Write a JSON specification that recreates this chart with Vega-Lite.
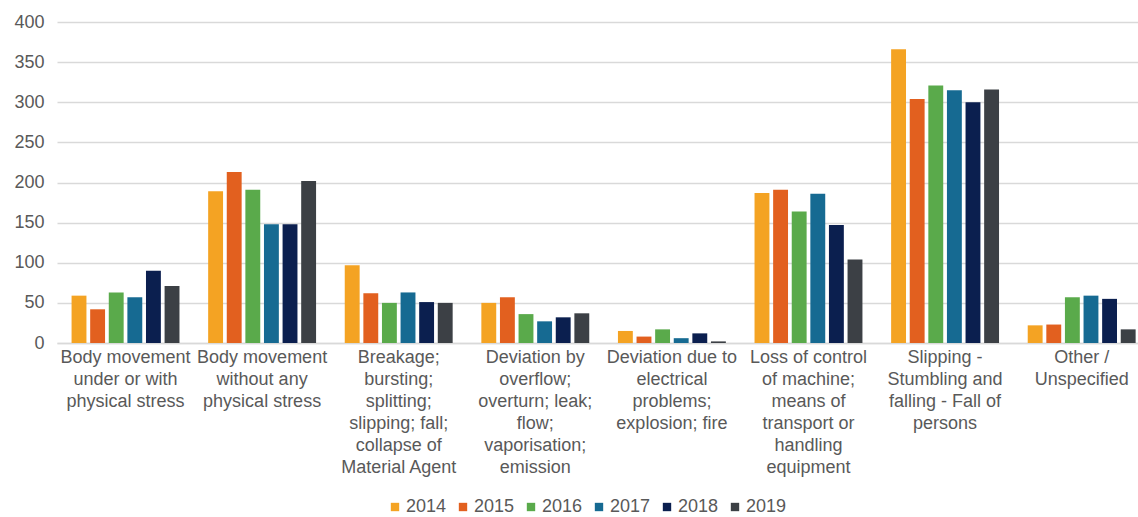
{
  "$schema": "https://vega.github.io/schema/vega-lite/v6.json",
  "autosize": "none",
  "width": 1081,
  "height": 321,
  "padding": {"left": 57, "top": 22, "right": 0, "bottom": 174},
  "background": "white",
  "config": {
    "view": {"stroke": null},
    "font": "Liberation Sans",
    "axis": {"labelFont": "Liberation Sans", "labelColor": "#595959", "labelFontSize": 18},
    "legend": {"labelFont": "Liberation Sans", "labelColor": "#595959", "labelFontSize": 18}
  },
  "data": {
    "values": [
      {"cause": "Body movement|under or with|physical stress", "year": "2014", "value": 59},
      {"cause": "Body movement|under or with|physical stress", "year": "2015", "value": 42},
      {"cause": "Body movement|under or with|physical stress", "year": "2016", "value": 63},
      {"cause": "Body movement|under or with|physical stress", "year": "2017", "value": 57},
      {"cause": "Body movement|under or with|physical stress", "year": "2018", "value": 90},
      {"cause": "Body movement|under or with|physical stress", "year": "2019", "value": 71},
      {"cause": "Body movement|without any|physical stress", "year": "2014", "value": 189},
      {"cause": "Body movement|without any|physical stress", "year": "2015", "value": 213},
      {"cause": "Body movement|without any|physical stress", "year": "2016", "value": 191},
      {"cause": "Body movement|without any|physical stress", "year": "2017", "value": 148},
      {"cause": "Body movement|without any|physical stress", "year": "2018", "value": 148},
      {"cause": "Body movement|without any|physical stress", "year": "2019", "value": 202},
      {"cause": "Breakage;|bursting;|splitting;|slipping; fall;|collapse of|Material Agent", "year": "2014", "value": 97},
      {"cause": "Breakage;|bursting;|splitting;|slipping; fall;|collapse of|Material Agent", "year": "2015", "value": 62},
      {"cause": "Breakage;|bursting;|splitting;|slipping; fall;|collapse of|Material Agent", "year": "2016", "value": 50},
      {"cause": "Breakage;|bursting;|splitting;|slipping; fall;|collapse of|Material Agent", "year": "2017", "value": 63},
      {"cause": "Breakage;|bursting;|splitting;|slipping; fall;|collapse of|Material Agent", "year": "2018", "value": 51},
      {"cause": "Breakage;|bursting;|splitting;|slipping; fall;|collapse of|Material Agent", "year": "2019", "value": 50},
      {"cause": "Deviation by|overflow;|overturn; leak;|flow;|vaporisation;|emission", "year": "2014", "value": 50},
      {"cause": "Deviation by|overflow;|overturn; leak;|flow;|vaporisation;|emission", "year": "2015", "value": 57},
      {"cause": "Deviation by|overflow;|overturn; leak;|flow;|vaporisation;|emission", "year": "2016", "value": 36},
      {"cause": "Deviation by|overflow;|overturn; leak;|flow;|vaporisation;|emission", "year": "2017", "value": 27},
      {"cause": "Deviation by|overflow;|overturn; leak;|flow;|vaporisation;|emission", "year": "2018", "value": 32},
      {"cause": "Deviation by|overflow;|overturn; leak;|flow;|vaporisation;|emission", "year": "2019", "value": 37},
      {"cause": "Deviation due to|electrical|problems;|explosion; fire", "year": "2014", "value": 15},
      {"cause": "Deviation due to|electrical|problems;|explosion; fire", "year": "2015", "value": 8},
      {"cause": "Deviation due to|electrical|problems;|explosion; fire", "year": "2016", "value": 17},
      {"cause": "Deviation due to|electrical|problems;|explosion; fire", "year": "2017", "value": 6},
      {"cause": "Deviation due to|electrical|problems;|explosion; fire", "year": "2018", "value": 12},
      {"cause": "Deviation due to|electrical|problems;|explosion; fire", "year": "2019", "value": 2},
      {"cause": "Loss of control|of machine;|means of|transport or|handling|equipment", "year": "2014", "value": 187},
      {"cause": "Loss of control|of machine;|means of|transport or|handling|equipment", "year": "2015", "value": 191},
      {"cause": "Loss of control|of machine;|means of|transport or|handling|equipment", "year": "2016", "value": 164},
      {"cause": "Loss of control|of machine;|means of|transport or|handling|equipment", "year": "2017", "value": 186},
      {"cause": "Loss of control|of machine;|means of|transport or|handling|equipment", "year": "2018", "value": 147},
      {"cause": "Loss of control|of machine;|means of|transport or|handling|equipment", "year": "2019", "value": 104},
      {"cause": "Slipping -|Stumbling and|falling - Fall of|persons", "year": "2014", "value": 366},
      {"cause": "Slipping -|Stumbling and|falling - Fall of|persons", "year": "2015", "value": 304},
      {"cause": "Slipping -|Stumbling and|falling - Fall of|persons", "year": "2016", "value": 321},
      {"cause": "Slipping -|Stumbling and|falling - Fall of|persons", "year": "2017", "value": 315},
      {"cause": "Slipping -|Stumbling and|falling - Fall of|persons", "year": "2018", "value": 300},
      {"cause": "Slipping -|Stumbling and|falling - Fall of|persons", "year": "2019", "value": 316},
      {"cause": "Other /|Unspecified", "year": "2014", "value": 22},
      {"cause": "Other /|Unspecified", "year": "2015", "value": 23},
      {"cause": "Other /|Unspecified", "year": "2016", "value": 57},
      {"cause": "Other /|Unspecified", "year": "2017", "value": 59},
      {"cause": "Other /|Unspecified", "year": "2018", "value": 55},
      {"cause": "Other /|Unspecified", "year": "2019", "value": 17}
    ]
  },
  "mark": {"type": "bar"},
  "encoding": {
    "x": {
      "field": "cause",
      "type": "nominal",
      "sort": null,
      "title": null,
      "scale": {"paddingInner": 0.21, "paddingOuter": 0.062, "align": 0.86},
      "axis": {
        "labelAngle": 0,
        "labelExpr": "split(datum.label, '|')",
        "labelLineHeight": 22,
        "labelPadding": 5,
        "ticks": false,
        "domainColor": "#d9d9d9",
        "domainWidth": 1.5,
        "labelLimit": 200
      }
    },
    "xOffset": {
      "field": "year",
      "type": "nominal",
      "scale": {"paddingInner": 0.2, "paddingOuter": 0}
    },
    "y": {
      "field": "value",
      "type": "quantitative",
      "title": null,
      "scale": {"domain": [0, 400]},
      "axis": {
        "values": [0, 50, 100, 150, 200, 250, 300, 350, 400],
        "domain": false,
        "ticks": false,
        "gridColor": "#d9d9d9",
        "gridWidth": 1.5,
        "labelPadding": 13
      }
    },
    "color": {
      "field": "year",
      "type": "nominal",
      "title": null,
      "scale": {
        "domain": ["2014", "2015", "2016", "2017", "2018", "2019"],
        "range": ["#F4A323", "#E2601F", "#5AAA4B", "#166A92", "#0B1F4F", "#3C4045"]
      },
      "legend": {
        "orient": "none",
        "legendX": 329,
        "legendY": 476,
        "direction": "horizontal",
        "symbolType": "square",
        "symbolSize": 70,
        "symbolStrokeWidth": 0,
        "labelOffset": 2,
        "columnPadding": 7
      }
    }
  }
}
